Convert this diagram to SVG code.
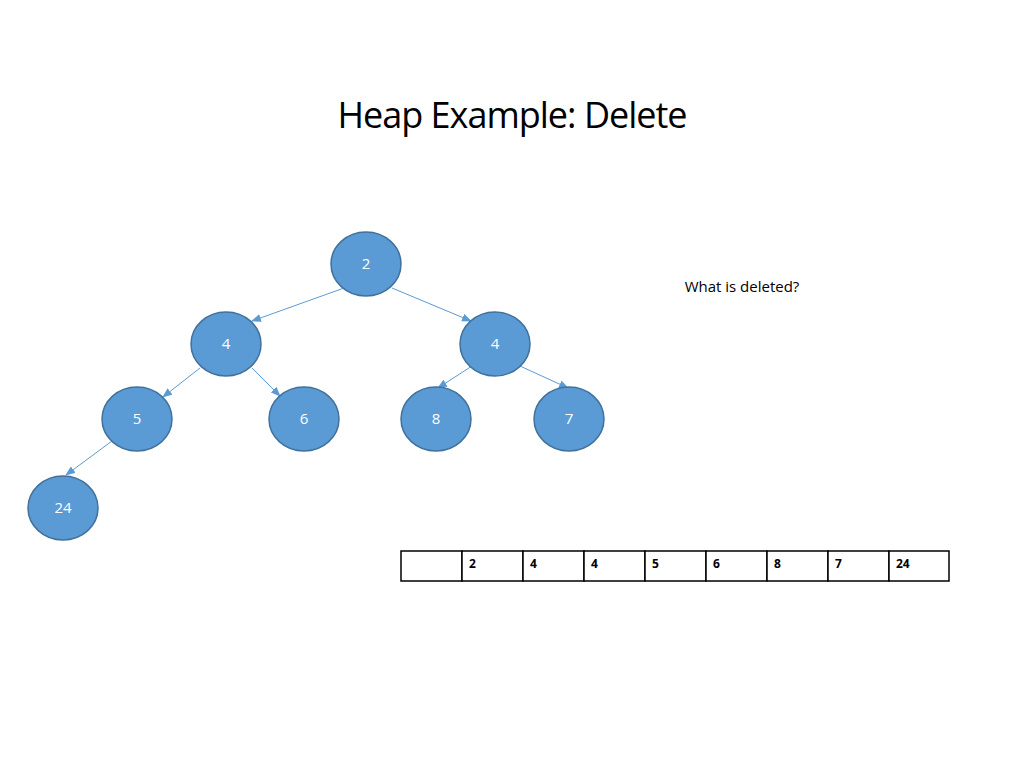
<svg xmlns="http://www.w3.org/2000/svg" width="1024" height="768" viewBox="0 0 1024 768">
<style>
.n ellipse{fill:#5b9bd5;stroke:#41719c;stroke-width:1.5}
.n text{fill:#fff;font-family:"Open Sans","Liberation Sans",sans-serif;font-size:15px;text-anchor:middle}
.e line{stroke:#5b9bd5;stroke-width:1}
.c{fill:#fff;stroke:#000;stroke-width:1.5}
.t{font-family:"Open Sans","Liberation Sans",sans-serif;font-size:12px;font-weight:bold}
</style>
<defs><marker id="a" markerWidth="10" markerHeight="8" refX="9" refY="4" orient="auto" markerUnits="userSpaceOnUse"><path d="M0,0L10,4L0,8z" fill="#5b9bd5"/></marker></defs>
<rect width="1024" height="768" fill="#fff"/>
<text x="512" y="128" font-family="Open Sans,Liberation Sans,sans-serif" font-size="36" text-anchor="middle" letter-spacing="-1">Heap Example: Delete</text>
<text x="742" y="292" font-family="Open Sans,Liberation Sans,sans-serif" font-size="15" text-anchor="middle">What is deleted?</text>
<g class="e">
<line x1="344" y1="288" x2="252" y2="321" marker-end="url(#a)"/>
<line x1="392" y1="288" x2="471" y2="321" marker-end="url(#a)"/>
<line x1="200" y1="368" x2="163" y2="397" marker-end="url(#a)"/>
<line x1="252" y1="368" x2="280" y2="396" marker-end="url(#a)"/>
<line x1="472" y1="366" x2="438" y2="388" marker-end="url(#a)"/>
<line x1="520" y1="366" x2="568" y2="388" marker-end="url(#a)"/>
<line x1="112" y1="441" x2="66" y2="475" marker-end="url(#a)"/>
</g>
<g id="n2" class="n"><ellipse cx="366" cy="264" rx="35" ry="32"/><text x="366" y="269">2</text></g>
<g id="n4a" class="n"><ellipse cx="226" cy="344" rx="35" ry="32"/><text x="226" y="349">4</text></g>
<g id="n4b" class="n"><ellipse cx="495" cy="344" rx="35" ry="32"/><text x="495" y="349">4</text></g>
<g id="n5" class="n"><ellipse cx="137" cy="419" rx="35" ry="32"/><text x="137" y="424">5</text></g>
<g id="n6" class="n"><ellipse cx="304" cy="419" rx="35" ry="32"/><text x="304" y="424">6</text></g>
<g id="n8" class="n"><ellipse cx="436" cy="419" rx="35" ry="32"/><text x="436" y="424">8</text></g>
<g id="n7" class="n"><ellipse cx="569" cy="419" rx="35" ry="32"/><text x="569" y="424">7</text></g>
<g id="n24" class="n"><ellipse cx="63" cy="508" rx="35" ry="32"/><text x="63" y="513">24</text></g>
<g id="array">
<rect class="c" x="401" y="551" width="61" height="30"/>
<rect class="c" x="462" y="551" width="61" height="30"/>
<rect class="c" x="523" y="551" width="61" height="30"/>
<rect class="c" x="584" y="551" width="61" height="30"/>
<rect class="c" x="645" y="551" width="61" height="30"/>
<rect class="c" x="706" y="551" width="61" height="30"/>
<rect class="c" x="767" y="551" width="61" height="30"/>
<rect class="c" x="828" y="551" width="61" height="30"/>
<rect class="c" x="889" y="551" width="60" height="30"/>
<text class="t" x="469" y="568">2</text>
<text class="t" x="530" y="568">4</text>
<text class="t" x="591" y="568">4</text>
<text class="t" x="652" y="568">5</text>
<text class="t" x="713" y="568">6</text>
<text class="t" x="774" y="568">8</text>
<text class="t" x="835" y="568">7</text>
<text class="t" x="896" y="568">24</text>
</g>
</svg>
